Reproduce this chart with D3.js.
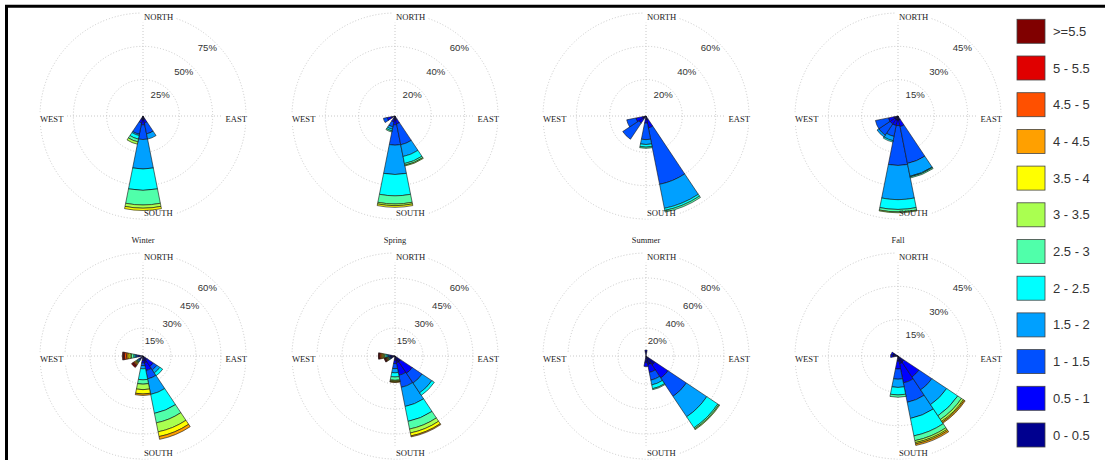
<!DOCTYPE html>
<html><head><meta charset="utf-8">
<script src="https://cdn.jsdelivr.net/npm/d3@7"></script>
<style>body{margin:0;background:#fff}svg{display:block}</style>
</head><body><svg id="c" width="1105" height="460"></svg>
<script>
// ---------- data ----------
const directions = ["N","NNE","NE","ENE","E","ESE","SE","SSE","S","SSW","SW","WSW","W","WNW","NW","NNW"];
const speedBins = ["0 - 0.5","0.5 - 1","1 - 1.5","1.5 - 2","2 - 2.5","2.5 - 3","3 - 3.5","3.5 - 4","4 - 4.5","4.5 - 5","5 - 5.5",">=5.5"];
const binColors = ["#00008F","#0000FF","#0050FF","#00A0FF","#00FFFF","#50FFAA","#AAFF50","#FFFF00","#FFA000","#FF5000","#E00000","#800000"];
const seasons = ["Winter","Spring","Summer","Fall"];
const compassLabels = ["NORTH","SOUTH","WEST","EAST"];

// percent frequency per speed bin (lowest bin first), per direction
const topWinter = [
  ["S",   [0.7, 3.7, 11.0, 22.1, 16.0, 11.0, 2.4, 1.7]],
  ["SSW", [0.5, 2.5, 8.7, 1.0, 2.7, 2.1, 1.8]],
  ["SSE", [0.5, 2.5, 8.4, 4.0]]
];
const topSpring = [
  ["S",   [0.5, 3.0, 12.2, 17.6, 12.8, 4.9, 1.0, 1.0]],
  ["SSE", [0.5, 2.5, 12.8, 7.2, 4.3, 1.0, 0.5]],
  ["SSW", [0.3, 1.5, 3.0, 1.5, 1.0, 0.7]],
  ["WSW", [0.5, 2.5, 2.3]]
];
const topSummer = [
  ["SSE", [0.5, 5.0, 34.5, 14.7, 1.3, 1.0]],
  ["S",   [0.5, 2.0, 9.9, 2.9, 1.6, 0.7]],
  ["SW",  [0.3, 3.0, 11.7]],
  ["WSW", [0.3, 4.0, 5.7]]
];
const topFall = [
  ["S",   [0.5, 2.5, 17.9, 15.4, 4.4, 1.1, 0.4]],
  ["SSE", [0.5, 3.0, 16.9, 5.9, 0.3, 0.5]],
  ["SSW", [0.5, 2.5, 5.0, 2.0, 0.6]],
  ["SW",  [0.5, 2.5, 6.0, 1.0]],
  ["WSW", [0.5, 2.5, 6.0]]
];
const bottomWinter = [
  ["SSE", [2.4, 4.7, 5.1, 9.5, 11.6, 5.8, 5.5, 2.9, 1.7]],
  ["S",   [1.0, 1.5, 1.5, 1.9, 6.6, 2.6, 3.3, 2.6, 0.9]],
  ["SE",  [1.2, 4.5, 2.5, 2.2, 2.0]],
  ["W",   [0.6, 0.8, 0.8, 0.8, 0.8, 1.4, 0.9, 1.2, 0.8, 1.2, 0.6, 0.7]],
  ["SW",  [0.5, 0.5, 0.5, 0.5, 0.5, 0.5, 0.5, 0.5, 0.5, 0.5, 0.5, 1.0]]
];
const bottomSpring = [
  ["SSE", [2.4, 7.6, 7.4, 11.7, 9.1, 4.7, 2.4, 1.8, 0.6]],
  ["SE",  [2.4, 8.2, 7.1, 7.1, 1.8]],
  ["S",   [0.8, 2.0, 3.0, 2.5, 2.5, 2.0, 0.5, 0.5, 0.3]],
  ["W",   [0.5, 0.8, 0.8, 0.8, 0.8, 0.8, 0.7, 0.7, 0.7, 0.7, 0.5, 0.4]],
  ["WSW", [0.4, 0.4, 0.4, 0.4, 0.4, 0.4, 0.4, 0.4, 0.4, 0.4, 0.4, 0.4]]
];
const bottomSummer = [
  ["SE",  [6.3, 12.5, 17.7, 19.6, 10.6, 1.1, 0.7]],
  ["SSE", [4.7, 6.3, 6.3, 3.9, 3.1, 0.8]],
  ["S",   [3.0, 3.0]],
  ["N",   [1.5, 0.8]]
];
const bottomFall = [
  ["SSE", [2.2, 8.8, 8.9, 7.4, 8.0, 2.2, 0.9, 0.6, 0.7]],
  ["SE",  [2.0, 8.0, 7.0, 8.0, 6.0, 2.0, 1.0, 0.5, 0.5]],
  ["S",   [1.0, 3.5, 4.6, 3.7, 3.4, 1.0]],
  ["W",   [1.0, 1.0]],
  ["WNW", [1.0, 0.8]]
];
const topTicks = [[25,50,75],[20,40,60],[20,40,60],[15,30,45]];
const bottomTicks = [[15,30,45,60],[15,30,45,60],[20,40,60,80],[15,30,45]];

// ---------- drawing ----------
const svg = d3.select("#c");
const colX = [143, 395, 646, 898];
const rowY = [116, 356];
const R0 = 3, R1 = 103;

const roses = [
  {data: topWinter,    ticks: topTicks[0],    row: 0, col: 0, title: null},
  {data: topSpring,    ticks: topTicks[1],    row: 0, col: 1, title: null},
  {data: topSummer,    ticks: topTicks[2],    row: 0, col: 2, title: null},
  {data: topFall,      ticks: topTicks[3],    row: 0, col: 3, title: null},
  {data: bottomWinter, ticks: bottomTicks[0], row: 1, col: 0, title: seasons[0]},
  {data: bottomSpring, ticks: bottomTicks[1], row: 1, col: 1, title: seasons[1]},
  {data: bottomSummer, ticks: bottomTicks[2], row: 1, col: 2, title: seasons[2]},
  {data: bottomFall,   ticks: bottomTicks[3], row: 1, col: 3, title: seasons[3]}
];

const angle = d3.scaleLinear().domain([0, directions.length]).range([0, 2 * Math.PI]);
const color = d3.scaleOrdinal().domain(speedBins).range(binColors);
const gridColor = "#c2c2c2";
const serif = "'Liberation Serif','DejaVu Serif',serif";
const sans = "'Liberation Sans',Arial,sans-serif";

roses.forEach(rs => {
  const cx = colX[rs.col], cy = rowY[rs.row];
  const g = svg.append("g").attr("transform", `translate(${cx},${cy})`);
  const maxT = d3.max(rs.ticks);
  const r = d3.scaleLinear().domain([0, maxT]).range([R0, R1]);

  const grid = g.append("g");
  grid.selectAll("circle").data(rs.ticks).join("circle")
    .attr("r", d => r(d)).attr("fill", "none")
    .attr("stroke", gridColor).attr("stroke-width", 0.9).attr("stroke-dasharray", "1,2");
  grid.append("line").attr("x1", -R1).attr("x2", R1).attr("y1", 0).attr("y2", 0)
    .attr("stroke", gridColor).attr("stroke-width", 0.9).attr("stroke-dasharray", "1,2");
  grid.append("line").attr("y1", -R1).attr("y2", R1).attr("x1", 0).attr("x2", 0)
    .attr("stroke", gridColor).attr("stroke-width", 0.9).attr("stroke-dasharray", "1,2");

  const bg = g.append("g");
  const bars = g.append("g");
  const labels = g.append("g");

  // wedges
  const arc = d3.arc();
  rs.data.forEach(([dir, vals]) => {
    const k = directions.indexOf(dir);
    let cum = 0;
    vals.forEach((v, i) => {
      const inner = i === 0 ? 0 : r(cum);
      cum += v;
      bars.append("path")
        .attr("d", arc({innerRadius: inner, outerRadius: r(cum),
                        startAngle: angle(k - 0.5), endAngle: angle(k + 0.5)}))
        .attr("fill", color(speedBins[i]))
        .attr("stroke", "#111").attr("stroke-width", 0.6).attr("stroke-linejoin", "round");
    });
  });

  // compass labels
  const lab = [
    {t: compassLabels[0], x: 1,    y: -96.3, anchor: "start"},
    {t: compassLabels[1], x: 1,    y: 99.6,  anchor: "start"},
    {t: compassLabels[2], x: -103, y: 6.4,   anchor: "start"},
    {t: compassLabels[3], x: 104,  y: 6.4,   anchor: "end"}
  ];
  lab.forEach(l => {
    const t = labels.append("text").attr("x", l.x).attr("y", l.y)
      .attr("text-anchor", l.anchor).attr("font-family", serif)
      .attr("font-size", 8.6).attr("fill", "#222").text(l.t);
    const b = t.node().getBBox();
    bg.append("rect").attr("x", b.x - 3).attr("y", b.y - 2)
      .attr("width", b.width + 6).attr("height", b.height + 3).attr("fill", "#fff");
  });

  // percent labels
  rs.ticks.forEach(tk => {
    const rr = r(tk);
    labels.append("text")
      .attr("x", rr * Math.SQRT1_2 - 8.5).attr("y", -rr * Math.SQRT1_2 + 4.5)
      .attr("text-anchor", "middle").attr("dominant-baseline", "central")
      .attr("font-family", sans).attr("font-size", 9.6).attr("fill", "#333")
      .text(tk + "%");
  });

  if (rs.title) {
    g.append("text").attr("x", 0).attr("y", -113).attr("text-anchor", "middle")
      .attr("font-family", serif).attr("font-size", 8.4).attr("fill", "#222")
      .text(rs.title);
  }
});

// legend
const legendOrder = speedBins.slice().reverse();
const ly = d3.scaleBand().domain(legendOrder).range([19.3, 19.3 + 36.7 * 12]);
const legend = svg.append("g");
legend.selectAll("rect").data(legendOrder).join("rect")
  .attr("x", 1017).attr("y", d => ly(d)).attr("width", 28).attr("height", 24)
  .attr("fill", d => color(d)).attr("stroke", "#444").attr("stroke-width", 0.8);
legend.selectAll("text").data(legendOrder).join("text")
  .attr("x", 1053).attr("y", d => ly(d) + 12).attr("dominant-baseline", "central")
  .attr("font-family", sans).attr("font-size", 13).attr("fill", "#333")
  .text(d => d);

// frame
svg.append("path").attr("d", "M6.5,460V6.3H1105")
  .attr("fill", "none").attr("stroke", "#000").attr("stroke-width", 3);
</script>
</body></html>
